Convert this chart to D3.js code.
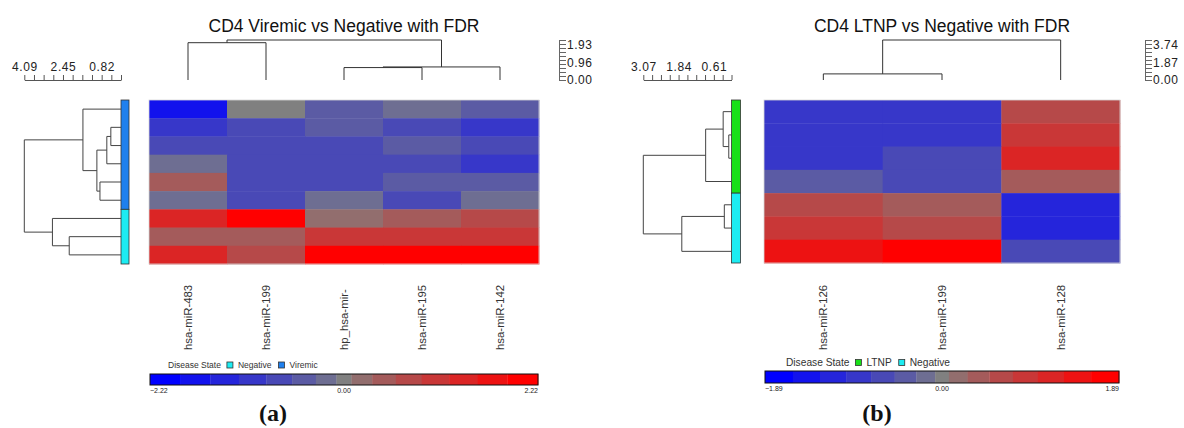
<!DOCTYPE html>
<html>
<head>
<meta charset="utf-8">
<script src="https://cdn.jsdelivr.net/npm/d3@7"></script>
<style>
body { margin: 0; background: #fff; }
svg text { font-family: "Liberation Sans", Arial, sans-serif; }
</style>
</head>
<body>
<div id="chart"></div>
<script>
// ---- panel (a) data ----
var titleA = "CD4 Viremic vs Negative with FDR";
var mirnasA = ["hsa-miR-483", "hsa-miR-199", "hp_hsa-mir-", "hsa-miR-195", "hsa-miR-142"];
var statesA = ["Viremic", "Viremic", "Viremic", "Viremic", "Viremic", "Viremic", "Negative", "Negative", "Negative"];
var valuesA = [
    [-1.70, 0.00, -0.45, -0.20, -0.45],
    [-1.04, -0.74, -0.45, -0.74, -1.04],
    [-0.74, -0.74, -0.74, -0.45, -0.74],
    [-0.20, -0.74, -0.74, -0.74, -1.04],
    [0.45, -0.74, -0.74, -0.45, -0.45],
    [-0.20, -0.74, -0.20, -0.74, -0.12],
    [1.37, 2.22, 0.20, 0.45, 0.74],
    [0.45, 0.45, 1.04, 1.04, 1.04],
    [1.37, 0.74, 2.22, 2.15, 2.10]
];
// merge tables, hclust style: negative = leaf (1-based), positive = earlier merge
var rowMergeA = [[-2, -3, 0.43], [1, -4, 0.60], [-5, -6, 0.89], [2, 3, 1.02], [-1, 4, 1.61], [-8, -9, 2.19], [-7, 6, 2.90], [5, 7, 4.09]];
var colMergeA = [[-3, -4, 0.60], [1, -5, 0.63], [-1, -2, 1.80], [3, 2, 1.93]];
var rowDistMaxA = 4.09;
var colDistMaxA = 1.93;
var colorMaxA = 2.22;
var legendStatesA = ["Negative", "Viremic"];

// ---- panel (b) data ----
var titleB = "CD4 LTNP vs Negative with FDR";
var mirnasB = ["hsa-miR-126", "hsa-miR-199", "hsa-miR-128"];
var statesB = ["LTNP", "LTNP", "LTNP", "LTNP", "Negative", "Negative", "Negative"];
var valuesB = [
    [-0.89, -0.89, 0.63],
    [-0.89, -0.89, 0.95],
    [-0.89, -0.63, 1.16],
    [-0.39, -0.63, 0.39],
    [0.63, 0.39, -1.16],
    [0.89, 0.63, -1.16],
    [1.45, 1.89, -0.63]
];
var rowMergeB = [[-2, -3, 0.095], [-1, 1, 0.29], [2, -4, 0.90], [-5, -6, 0.25], [4, -7, 1.73], [3, 5, 3.07]];
var colMergeB = [[-1, -2, 0.57], [1, -3, 3.74]];
var rowDistMaxB = 3.07;
var colDistMaxB = 3.74;
var colorMaxB = 1.89;
var legendStatesB = ["LTNP", "Negative"];

var stateColors = { Viremic: "#1f80ee", Negative: "#1cecf2", LTNP: "#18e018" };

var svg = d3.select("#chart").append("svg")
    .attr("width", 1184)
    .attr("height", 428);

// 15 colour steps: blue -> grey -> red
var levels = d3.range(-7, 8).map(function (k) {
    if (k < 0) return d3.interpolateRgb("#808080", "#0000ff")(-k / 7);
    return d3.interpolateRgb("#808080", "#ff0000")(k / 7);
});
var warpScale = d3.scalePow().exponent(1.2).domain([0, 1]).range([0, 1]);
function warp(t) { return t < 0 ? -warpScale(-t) : warpScale(t); }
function unwarp(t) { return t < 0 ? -warpScale.invert(-t) : warpScale.invert(t); }

// scale labels are rounded half-down
function fmt(v) { return d3.format(".2f")(v > 0 ? v - 1e-6 : v); }

function layoutTree(merges, leafPos) {
    var nodes = [];
    function ref(k) { return k < 0 ? { pos: leafPos(-k - 1), h: 0 } : nodes[k - 1]; }
    merges.forEach(function (m) {
        var a = ref(m[0]), b = ref(m[1]);
        nodes.push({ a: a, b: b, h: m[2], pos: (a.pos + b.pos) / 2 });
    });
    return nodes;
}

function drawPanel(p, L) {
    var g = svg.append("g");

    var x = d3.scaleBand().domain(d3.range(p.cols.length)).range([L.left, L.right]);
    var y = d3.scaleBand().domain(d3.range(p.values.length)).range([L.top, L.bottom]);
    var quant = d3.scaleQuantize().domain([-1, 1]).range(levels);
    function colorOf(v) {
        var t = Math.max(-1, Math.min(1, v / p.colorMax));
        return quant(unwarp(t));
    }

    // title
    g.append("text")
        .attr("x", L.titleX)
        .attr("y", 32)
        .attr("text-anchor", "middle")
        .style("font-size", "17.5px")
        .style("fill", "#111")
        .text(p.title);

    // heatmap cells
    var cells = [];
    p.values.forEach(function (row, i) {
        row.forEach(function (v, j) { cells.push({ r: i, c: j, v: v }); });
    });
    g.selectAll(".cell")
        .data(cells)
        .enter()
        .append("rect")
        .attr("x", function (d) { return x(d.c); })
        .attr("y", function (d) { return y(d.r); })
        .attr("width", x.bandwidth() + 0.4)
        .attr("height", y.bandwidth() + 0.4)
        .attr("fill", function (d) { return colorOf(d.v); });
    g.append("rect")
        .attr("x", L.left).attr("y", L.top)
        .attr("width", L.right - L.left).attr("height", L.bottom - L.top)
        .attr("fill", "none").attr("stroke", "#d8d8d8").attr("stroke-width", 0.8);

    // side colour bar
    var groups = [];
    p.states.forEach(function (s, i) {
        var last = groups[groups.length - 1];
        if (last && last.state === s) last.end = i;
        else groups.push({ state: s, start: i, end: i });
    });
    g.selectAll(".side")
        .data(groups)
        .enter()
        .append("rect")
        .attr("x", L.barX)
        .attr("y", function (d) { return y(d.start); })
        .attr("width", L.barW)
        .attr("height", function (d) { return y(d.end) + y.bandwidth() - y(d.start); })
        .attr("fill", function (d) { return stateColors[d.state]; })
        .attr("stroke", "#333")
        .attr("stroke-width", 0.8);

    // row dendrogram
    var rowH = d3.scaleLinear().domain([0, p.rowDistMax]).range([L.barX, L.rowDendroLeft]);
    var rowNodes = layoutTree(p.rowMerge, function (i) { return y(i) + y.bandwidth() / 2; });
    g.selectAll(".rlink")
        .data(rowNodes)
        .enter()
        .append("path")
        .attr("d", function (n) {
            return "M" + rowH(n.a.h) + "," + n.a.pos + "H" + rowH(n.h) + "V" + n.b.pos + "H" + rowH(n.b.h);
        })
        .attr("fill", "none")
        .attr("stroke", "#444")
        .attr("stroke-width", 1);

    var rowTicks = d3.range(11).map(function (i) { return p.rowDistMax * i / 10; });
    var rowAxis = d3.axisTop(rowH)
        .tickValues(rowTicks)
        .tickSize(5)
        .tickSizeOuter(0)
        .tickPadding(4)
        .tickFormat(function (v, i) { return (i === 10 || i === 6 || i === 2) ? fmt(v) : ""; });
    var ra = g.append("g").attr("transform", "translate(0,80)").call(rowAxis);
    ra.selectAll("path, line").attr("stroke", "#555");
    ra.selectAll("text")
        .style("font-family", "'Liberation Sans', Arial, sans-serif")
        .style("font-size", "12px")
        .style("letter-spacing", "0.6px")
        .style("fill", "#222");

    // column dendrogram
    var colH = d3.scaleLinear().domain([0, p.colDistMax]).range([80, 40]);
    var colNodes = layoutTree(p.colMerge, function (i) { return x(i) + x.bandwidth() / 2; });
    g.selectAll(".clink")
        .data(colNodes)
        .enter()
        .append("path")
        .attr("d", function (n) {
            return "M" + n.a.pos + "," + colH(n.a.h) + "V" + colH(n.h) + "H" + n.b.pos + "V" + colH(n.b.h);
        })
        .attr("fill", "none")
        .attr("stroke", "#333")
        .attr("stroke-width", 1);

    var colTicks = d3.range(11).map(function (i) { return p.colDistMax * i / 10; });
    var colAxis = d3.axisRight(colH)
        .tickValues(colTicks)
        .tickSize(7)
        .tickSizeOuter(0)
        .tickPadding(1)
        .tickFormat(function (v, i) { return (i === 0 || i === 5 || i === 10) ? fmt(v) : ""; });
    var ca = g.append("g").attr("transform", "translate(" + L.scaleX + ",0)").call(colAxis);
    ca.selectAll("path, line").attr("stroke", "#666");
    ca.selectAll("text")
        .attr("dy", function (v) { return (0.32 * 12 + 5 * v / p.colDistMax) + "px"; })
        .style("font-family", "'Liberation Sans', Arial, sans-serif")
        .style("font-size", "12px")
        .style("letter-spacing", "0.5px")
        .style("fill", "#222");

    // column labels
    g.selectAll(".clab")
        .data(p.cols)
        .enter()
        .append("text")
        .attr("transform", function (d, i) {
            return "translate(" + (x(i) + x.bandwidth() / 2 + 4) + ",350) rotate(-90)";
        })
        .style("font-size", "11.4px")
        .style("fill", "#333")
        .text(function (d) { return d; });

    // disease state legend
    var lg = g.append("g").attr("transform", "translate(" + L.legendX + "," + L.legendY + ")");
    var lx = 0;
    var head = lg.append("text")
        .attr("x", 0).attr("y", 0).attr("dy", "0.35em")
        .style("font-size", L.legendFont + "px")
        .style("fill", "#333")
        .text("Disease State");
    lx = head.node().getComputedTextLength() + 6;
    p.legendStates.forEach(function (s) {
        lg.append("rect")
            .attr("x", lx).attr("y", -3)
            .attr("width", 6).attr("height", 6)
            .attr("fill", stateColors[s])
            .attr("stroke", "#333").attr("stroke-width", 0.8);
        var t = lg.append("text")
            .attr("x", lx + 11).attr("y", 0).attr("dy", "0.35em")
            .style("font-size", L.legendFont + "px")
            .style("fill", "#333")
            .text(s);
        lx = lx + 11 + t.node().getComputedTextLength() + 7;
    });

    // stepped colour bar
    var cbX = d3.scaleLinear().domain([-1, 1]).range([L.cbLeft, L.cbRight]);
    var segs = levels.map(function (c, j) {
        return { t0: -1 + 2 * j / 15, t1: -1 + 2 * (j + 1) / 15, color: c };
    });
    g.selectAll(".seg")
        .data(segs)
        .enter()
        .append("rect")
        .attr("x", function (d) { return cbX(warp(d.t0)); })
        .attr("y", L.cbTop)
        .attr("width", function (d) { return cbX(warp(d.t1)) - cbX(warp(d.t0)) + 0.3; })
        .attr("height", L.cbH)
        .attr("fill", function (d) { return d.color; });
    g.append("rect")
        .attr("x", L.cbLeft).attr("y", L.cbTop)
        .attr("width", L.cbRight - L.cbLeft).attr("height", L.cbH)
        .attr("fill", "none").attr("stroke", "#111").attr("stroke-width", 1);
    var cbLabels = [
        { v: -p.colorMax, anchor: "start" },
        { v: 0, anchor: "middle" },
        { v: p.colorMax, anchor: "end" }
    ];
    g.selectAll(".cblab")
        .data(cbLabels)
        .enter()
        .append("text")
        .attr("x", function (d) { return cbX(warp(d.v / p.colorMax)); })
        .attr("y", L.cbTop + L.cbH + 7.5)
        .attr("text-anchor", function (d) { return d.anchor; })
        .style("font-size", "7px")
        .style("fill", "#222")
        .text(function (d) { return d3.format(".2f")(d.v); });

    // panel letter
    g.append("text")
        .attr("x", L.letterX)
        .attr("y", 421)
        .attr("text-anchor", "middle")
        .style("font-family", "'Liberation Serif', 'Times New Roman', serif")
        .style("font-weight", "bold")
        .style("font-size", "24px")
        .style("fill", "#111")
        .text(p.letter);
}

drawPanel({
    title: titleA, cols: mirnasA, states: statesA, values: valuesA,
    rowMerge: rowMergeA, colMerge: colMergeA,
    rowDistMax: rowDistMaxA, colDistMax: colDistMaxA, colorMax: colorMaxA,
    legendStates: legendStatesA, letter: "(a)"
}, {
    left: 149, right: 539, top: 100, bottom: 264,
    barX: 121, barW: 8, rowDendroLeft: 24.3,
    scaleX: 559, titleX: 344,
    legendX: 168, legendY: 365, legendFont: 8.5,
    cbLeft: 150, cbRight: 538, cbTop: 374, cbH: 11,
    letterX: 273
});

drawPanel({
    title: titleB, cols: mirnasB, states: statesB, values: valuesB,
    rowMerge: rowMergeB, colMerge: colMergeB,
    rowDistMax: rowDistMaxB, colDistMax: colDistMaxB, colorMax: colorMaxB,
    legendStates: legendStatesB, letter: "(b)"
}, {
    left: 764, right: 1120, top: 100, bottom: 263,
    barX: 731.5, barW: 9, rowDendroLeft: 643.3,
    scaleX: 1145, titleX: 942,
    legendX: 786, legendY: 362.5, legendFont: 10.2,
    cbLeft: 765, cbRight: 1119, cbTop: 371, cbH: 12,
    letterX: 877
});
</script>
</body>
</html>
